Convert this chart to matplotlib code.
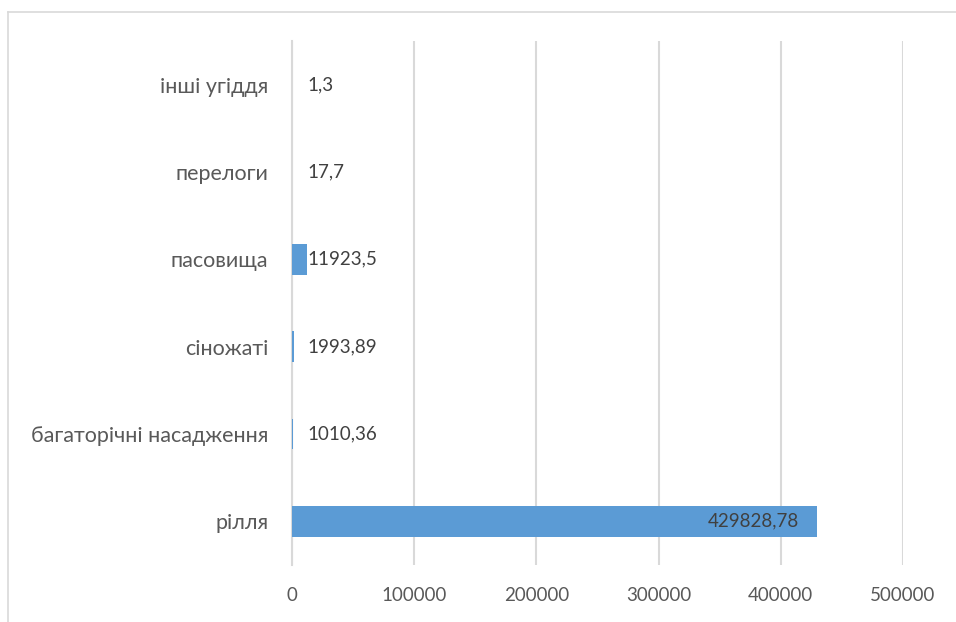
import matplotlib.pyplot as plt
from matplotlib.lines import Line2D

# Категорії угідь і площі (знизу вгору)
categories = ["рілля", "багаторічні насадження", "сіножаті", "пасовища", "перелоги", "інші угіддя"]
values = [429828.78, 1010.36, 1993.89, 11923.5, 17.7, 1.3]
value_labels = ["429828,78", "1010,36", "1993,89", "11923,5", "17,7", "1,3"]
xticks = [0, 100000, 200000, 300000, 400000, 500000]

plt.rcParams['font.family'] = ['Lato', 'DejaVu Sans']
text_color = '#595959'
bar_color = '#5b9bd5'
grid_color = '#d9d9d9'

fig = plt.figure(figsize=(9.56, 6.22), dpi=100)
ax = fig.add_axes([0.3054, 0.0916, 0.6392, 0.8424])

y = range(len(categories))
ax.barh(y, values, height=0.35, color=bar_color, zorder=3)

for i, (v, lab) in enumerate(zip(values, value_labels)):
    if v > 200000:
        ax.text(v - 15000, i, lab, ha='right', va='center', fontsize=13.5, color='#404040', zorder=4)
    else:
        ax.text(max(v, 12000) + 600, i, lab, ha='left', va='center', fontsize=13.5, color='#404040', zorder=4)

ax.set_xlim(0, 500000)
ax.set_ylim(-0.5, len(categories) - 0.5)
ax.set_xticks(xticks)
ax.set_xticklabels([str(t) for t in xticks])
ax.set_yticks(list(y))
ax.set_yticklabels(categories, fontsize=15.5)
ax.tick_params(axis='both', length=0, colors=text_color)
ax.tick_params(axis='x', pad=16, labelsize=13.5)
ax.tick_params(axis='y', pad=17)

ax.grid(axis='x', color=grid_color, linewidth=1.5, zorder=0)
for s in ['top', 'right', 'bottom']:
    ax.spines[s].set_visible(False)
ax.spines['left'].set_color(grid_color)
ax.spines['left'].set_linewidth(1.5)

# рамка області діаграми
fig.add_artist(Line2D([8 / 956, 1], [1 - 12 / 622, 1 - 12 / 622], color=grid_color, linewidth=1.2))
fig.add_artist(Line2D([8 / 956, 8 / 956], [0, 1 - 12 / 622], color=grid_color, linewidth=1.2))

fig.savefig("out.png", dpi=100)
